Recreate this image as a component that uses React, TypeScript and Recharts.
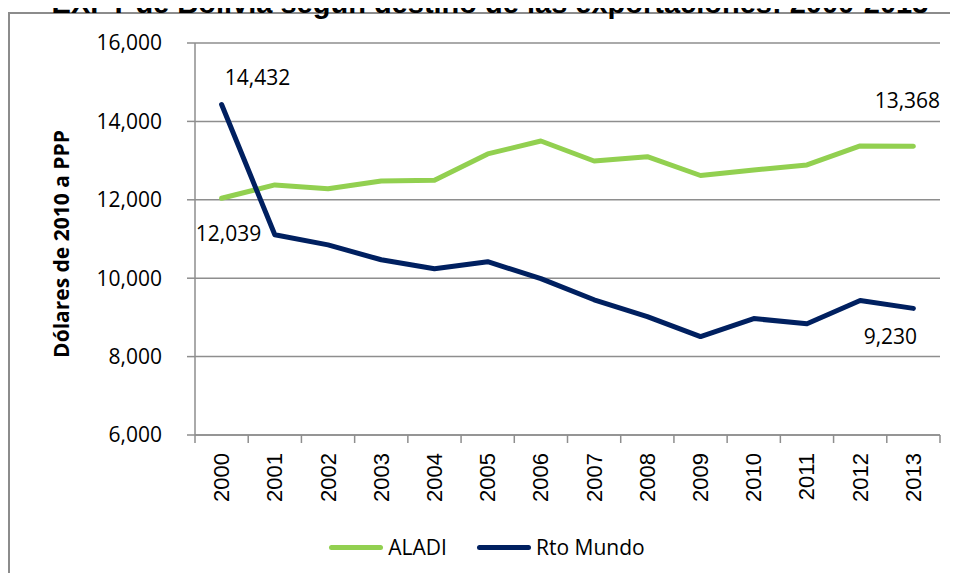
import React from "react"
import { LineChart, Line, XAxis, YAxis, CartesianGrid, Legend, LabelList } from "recharts"

const years = ["2000", "2001", "2002", "2003", "2004", "2005", "2006", "2007", "2008", "2009", "2010", "2011", "2012", "2013"]
const aladi = [12039, 12380, 12280, 12480, 12500, 13170, 13500, 12990, 13100, 12620, 12760, 12890, 13375, 13368]
const rtoMundo = [14432, 11110, 10850, 10470, 10240, 10420, 9990, 9450, 9020, 8510, 8970, 8840, 9430, 9230]
const yTicks = [6000, 8000, 10000, 12000, 14000, 16000]

const W = 958
const H = 581
const PLOT_LEFT = 195
const PLOT_RIGHT = 940
const HALF_BAND = (PLOT_RIGHT - PLOT_LEFT) / years.length / 2

const GREEN = "#92D050"
const NAVY = "#002060"
const GRID = "#8e8e8e"
const SANS = "'Open Sans', sans-serif"
const ARIAL = "'Liberation Sans', Arial, sans-serif"

const data = years.map((year, i) => ({ i, year, aladi: aladi[i], rto: rtoMundo[i] }))
const xTicks = [...years.map((_, i) => i - 0.5), years.length - 0.5]

const fmt = (v: number) => v.toLocaleString("en-US")

function YearTick(props: any) {
  const { x, y, payload } = props
  const idx = payload.value + 0.5
  if (idx >= years.length) return null
  const cx = x + HALF_BAND
  return (
    <text
      x={cx}
      y={y}
      transform={`rotate(-90 ${cx} ${y})`}
      textAnchor="end"
      dominantBaseline="central"
      fontFamily={ARIAL}
      fontSize={22}
      fill="#000"
    >
      {years[idx]}
    </text>
  )
}

// only first and last points get a value label, each nudged like the original
function endLabels(first: [number, number], last: [number, number]) {
  return (props: any) => {
    const { x, y, index, value } = props
    let off: [number, number] | null = null
    if (index === 0) off = first
    if (index === years.length - 1) off = last
    if (!off) return null
    return (
      <text
        x={x + off[0]}
        y={y + off[1]}
        textAnchor="middle"
        dominantBaseline="central"
        fontFamily={SANS}
        fontSize={21}
        fill="#000"
      >
        {fmt(value)}
      </text>
    )
  }
}

function LegendContent() {
  const item = (color: string, label: string) => (
    <div style={{ display: "flex", alignItems: "center" }}>
      <div style={{ width: 54, height: 5, borderRadius: 3, background: color, marginRight: 5 }} />
      <span style={{ fontFamily: SANS, fontSize: 21, color: "#000" }}>{label}</span>
    </div>
  )
  return (
    <div style={{ display: "flex", justifyContent: "center", gap: 30, paddingLeft: 16 }}>
      {item(GREEN, "ALADI")}
      {item(NAVY, "Rto Mundo")}
    </div>
  )
}

export default function App() {
  return (
    <div style={{ position: "relative", margin: -8, width: W, height: H, overflow: "hidden", background: "#fff" }}>
      <div
        style={{
          position: "absolute",
          left: 8,
          top: 12,
          width: W + 20,
          height: H + 20,
          border: "2px solid #8c8c8c",
        }}
      />
      <div
        style={{
          position: "absolute",
          left: 0,
          top: -12,
          width: W,
          textAlign: "center",
          paddingLeft: 22,
          boxSizing: "border-box",
          fontFamily: ARIAL,
          fontWeight: 700,
          fontSize: 29,
          lineHeight: "30px",
          whiteSpace: "nowrap",
        }}
      >
        EXPT de Bolivia según destino de las exportaciones: 2000-2013
      </div>
      <div style={{ position: "absolute", left: 0, top: 0 }}>
        <LineChart width={W} height={H} data={data} margin={{ top: 43, right: W - PLOT_RIGHT, left: 0, bottom: 0 }}>
          <CartesianGrid vertical={false} stroke={GRID} strokeWidth={1.5} />
          <XAxis
            type="number"
            dataKey="i"
            domain={[-0.5, years.length - 0.5]}
            ticks={xTicks}
            interval={0}
            height={146}
            stroke={GRID}
            strokeWidth={1.5}
            tickSize={8}
            tickMargin={10}
            tick={<YearTick />}
          />
          <YAxis
            domain={[6000, 16000]}
            ticks={yTicks}
            width={PLOT_LEFT}
            stroke={GRID}
            strokeWidth={1.5}
            tickSize={8}
            tickMargin={25}
            tickFormatter={fmt}
            tick={{ fontFamily: SANS, fontSize: 21, fill: "#000" }}
            label={{
              value: "Dólares de 2010 a PPP",
              angle: -90,
              position: "center",
              dx: -36,
              dy: 5,
              style: { fontFamily: SANS, fontWeight: 700, fontSize: 21, fill: "#000" },
            }}
          />
          <Legend verticalAlign="middle" align="center" wrapperStyle={{ top: 533, left: 0, width: W }} content={<LegendContent />} />
          <Line
            type="linear"
            dataKey="aladi"
            name="ALADI"
            stroke={GREEN}
            strokeWidth={5}
            strokeLinecap="round"
            strokeLinejoin="round"
            dot={false}
            isAnimationActive={false}
          >
            <LabelList dataKey="aladi" content={endLabels([7, 35], [-6, -46])} />
          </Line>
          <Line
            type="linear"
            dataKey="rto"
            name="Rto Mundo"
            stroke={NAVY}
            strokeWidth={5}
            strokeLinecap="round"
            strokeLinejoin="round"
            dot={false}
            isAnimationActive={false}
          >
            <LabelList dataKey="rto" content={endLabels([36, -27], [-23, 28])} />
          </Line>
        </LineChart>
      </div>
    </div>
  )
}
